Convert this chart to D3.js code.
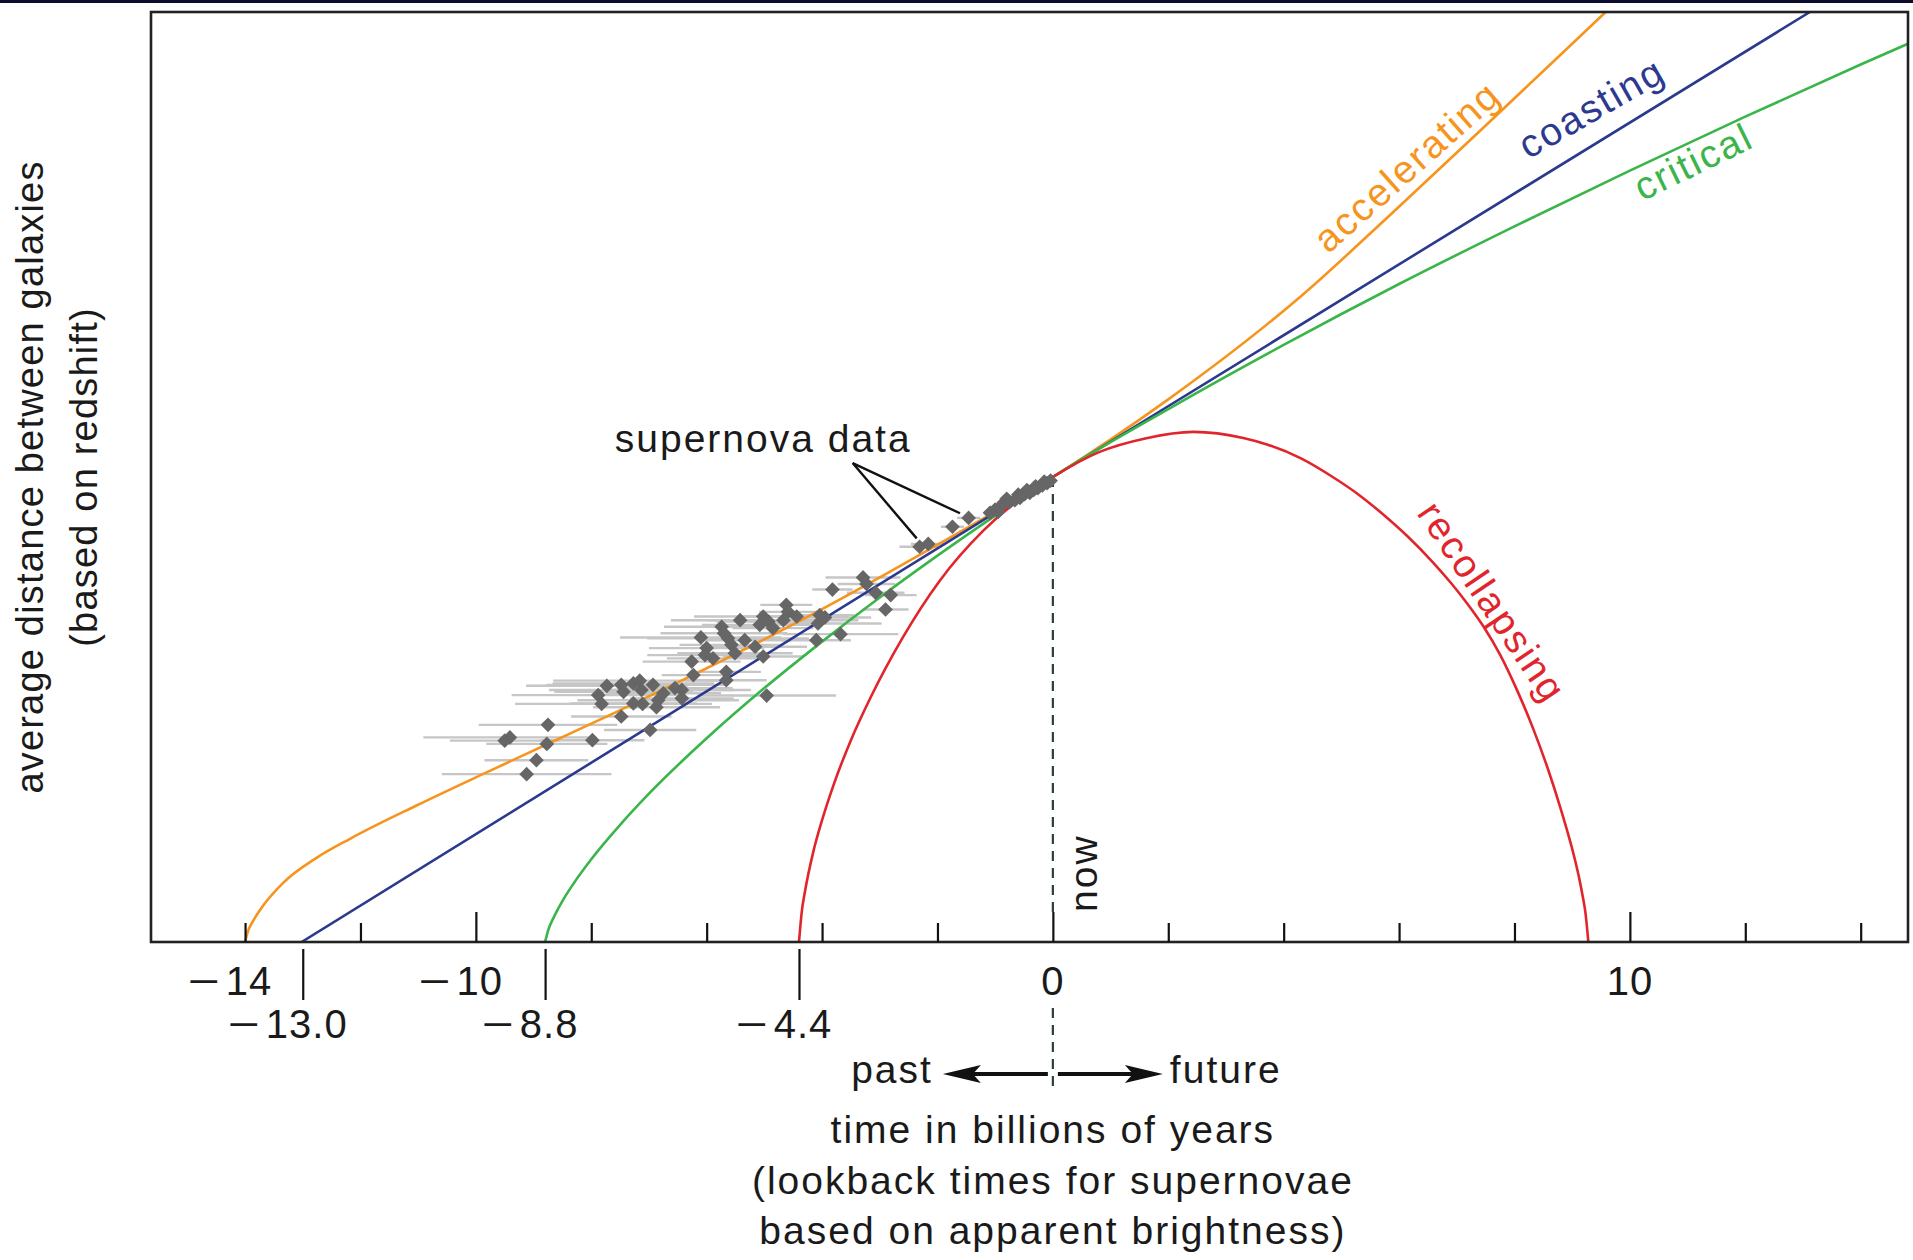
<!DOCTYPE html>
<html><head><meta charset="utf-8">
<script src="https://cdn.jsdelivr.net/npm/d3@7"></script>
<style>
html,body{margin:0;padding:0;background:#fff;}
svg{display:block;}
text{font-family:"Liberation Sans", Arial, Helvetica, sans-serif; fill:#1a1a1a;}
</style></head><body>
<svg id="chart" width="1913" height="1260"></svg>
<script>
// ---------------- DATA ----------------
// time in billions of years (t), relative average distance between galaxies (a; now = 1)
const xTickValues = [-14,-12,-10,-8,-6,-4,-2,0,2,4,6,8,10,12,14];
const xMajorTicks = [-10,0,10];
const xTickLabels = [-14,-10,0,10];
const ageTickValues = [-13.0,-8.8,-4.4];

const accelerating = [[-14,0],[-13.95,0.023],[-13.88,0.041],[-13.74,0.069],[-13.34,0.127],[-12.76,0.181],
  [-12.18,0.222],[-11.02,0.294],[-9.88,0.361],[-8.72,0.428],[-7.56,0.495],[-6.34,0.568],[-4.04,0.713],
  [-1.96,0.857],[0,1.0],[2.0,1.167],[4.33,1.392],[5.84,1.563],[7.57,1.764],[8.73,1.900],[9.58,2.0]];
const coasting = [[-13.02,0],[0,1.0],[13.12,2.0]];
const critical = [[-8.8,0],[-8.75,0.024],[-8.65,0.053],[-8.5,0.088],[-8.3,0.127],[-8.0,0.178],[-7.5,0.252],
  [-7.0,0.319],[-6.0,0.438],[-5.0,0.546],[-4.0,0.646],[-3.0,0.741],[-2.0,0.831],[-1.0,0.917],[0,1.0],
  [2,1.146],[4,1.284],[6,1.415],[8,1.539],[10,1.659],[12,1.775],[14,1.887],[14.9,1.936]];
const recollapsing = [[-4.4,0],[-4.35,0.067],[-4.3,0.106],[-4.15,0.195],[-4.0,0.262],[-3.8,0.338],[-3.5,0.434],
  [-3.17,0.523],[-2.6,0.655],[-1.96,0.777],[-1.21,0.884],[-0.62,0.948],[0,1.0],[0.81,1.054],[1.6,1.083],
  [2.44,1.097],[3.3,1.084],[3.71,1.070],[4.3,1.040],[4.85,1.000],[5.3,0.962],[5.72,0.920],[6.15,0.872],
  [6.59,0.816],[6.9,0.772],[7.18,0.728],[7.46,0.679],[7.75,0.618],[8.05,0.540],[8.32,0.460],[8.58,0.372],
  [8.78,0.295],[8.93,0.232],[9.03,0.186],[9.13,0.132],[9.18,0.100],[9.23,0.063],[9.28,0]];

const curveNames = ["accelerating","coasting","critical","recollapsing"];

// supernovae: [lookback time t, distance a, time uncertainty (half width)]
const supernovae = [
  [-2.31,0.850,0.35],[-2.16,0.856,0.3],[-3.29,0.784,0.65],[-3.23,0.770,0.5],[-3.82,0.758,0.35],[-3.07,0.751,0.5],
  [-2.81,0.746,0.45],[-2.90,0.715,0.4],[-3.68,0.662,1.0],[-4.10,0.649,0.6],[-4.62,0.725,0.45],[-4.59,0.710,0.5],
  [-4.67,0.692,1.3],[-4.44,0.700,0.9],[-4.04,0.703,0.6],[-3.95,0.698,0.8],[-4.07,0.685,1.1],[-5.02,0.700,1.2],
  [-4.93,0.689,0.9],[-5.08,0.682,1.0],[-4.85,0.675,0.7],[-5.42,0.692,1.2],[-5.74,0.678,1.0],[-5.70,0.664,1.1],
  [-5.63,0.653,1.4],[-5.57,0.639,0.9],[-5.51,0.621,1.0],[-5.34,0.649,0.8],[-5.16,0.635,0.9],[-5.02,0.614,0.7],
  [-6.10,0.655,1.4],[-6.00,0.632,1.0],[-6.03,0.617,1.0],[-5.89,0.610,0.8],[-6.26,0.603,0.85],[-5.66,0.581,0.6],
  [-5.66,0.563,0.7],[-6.23,0.574,0.55],[-4.96,0.530,1.2],[-7.73,0.551,1.4],[-7.88,0.531,1.5],[-7.82,0.512,1.5],
  [-7.48,0.553,1.3],[-7.44,0.538,1.2],[-7.27,0.556,1.4],[-7.16,0.562,1.5],[-7.13,0.542,1.6],[-7.27,0.513,1.1],
  [-7.11,0.512,1.2],[-6.93,0.553,1.3],[-6.75,0.535,1.0],[-6.84,0.520,1.4],[-6.87,0.505,1.1],[-6.55,0.546,1.0],
  [-6.43,0.542,1.2],[-6.43,0.524,0.9],[-7.48,0.485,0.87],[-6.98,0.456,0.8],[-8.75,0.467,1.2],[-9.41,0.440,1.5],
  [-9.50,0.433,0.95],[-8.77,0.426,1.05],[-7.98,0.434,0.9],[-8.95,0.391,0.9],[-9.12,0.361,1.47],
  [-1.74,0.893,0.2],[-1.46,0.912,0.2],
  [-1.09,0.923,0.1],[-1.0,0.930,0.1],[-0.95,0.925,0.1],[-0.92,0.935,0.1],[-0.85,0.945,0.1],[-0.8,0.953,0.1],
  [-0.75,0.946,0.1],[-0.66,0.950,0.1],[-0.6,0.962,0.1],[-0.57,0.955,0.1],[-0.49,0.963,0.1],[-0.45,0.972,0.1],
  [-0.40,0.966,0.1],[-0.33,0.972,0.1],[-0.3,0.980,0.1],[-0.26,0.976,0.1],[-0.18,0.982,0.1],[-0.15,0.990,0.1],
  [-0.10,0.987,0.1],[-0.04,0.992,0.1]
];

// ---------------- LAYOUT / STYLE ----------------
const W = 1913, H = 1260;
const P = {left:151, right:1908, top:12, bottom:942};
const colors = {accelerating:"#f7941d", coasting:"#2b3a8f", critical:"#3ab54a", recollapsing:"#e1252c"};
const series = {accelerating, coasting, critical, recollapsing};
const FS = 39;

const svg = d3.select("#chart");
const x = d3.scaleLinear().domain([-15.63, 14.82]).range([P.left, P.right]);
const y = d3.scaleLinear().domain([0, 2]).range([P.bottom, P.top]);

// top dark band
svg.append("rect").attr("x",0).attr("y",0).attr("width",W).attr("height",3).attr("fill","#0c0c2c");

svg.append("defs").append("clipPath").attr("id","plotclip")
  .append("rect").attr("x",P.left).attr("y",P.top).attr("width",P.right-P.left).attr("height",P.bottom-P.top);

// now dashed line (inside plot and below axis)
svg.append("line").attr("x1",x(0)).attr("x2",x(0)).attr("y1",y(1)).attr("y2",y(0)-28)
  .attr("stroke","#2f3d3d").attr("stroke-width",2.2).attr("stroke-dasharray","10,7");
svg.append("line").attr("x1",x(0)).attr("x2",x(0)).attr("y1",1008).attr("y2",1086)
  .attr("stroke","#2f3d3d").attr("stroke-width",2.2).attr("stroke-dasharray","10,7");

// error bars
const plotG = svg.append("g").attr("clip-path","url(#plotclip)");
plotG.append("g").selectAll("line").data(supernovae).join("line")
  .attr("x1",d=>x(d[0]-d[2])).attr("x2",d=>x(d[0]+d[2]))
  .attr("y1",d=>y(d[1])).attr("y2",d=>y(d[1]))
  .attr("stroke","#c6c6c6").attr("stroke-width",2.4);

// curves
const line = d3.line().x(d=>x(d[0])).y(d=>y(d[1])).curve(d3.curveMonotoneX);
plotG.append("g").selectAll("path").data(curveNames).join("path")
  .attr("d",n=>line(series[n])).attr("fill","none")
  .attr("stroke",n=>colors[n]).attr("stroke-width",2.6);

// supernova diamonds
const sym = d3.symbol(d3.symbolSquare, 108);
plotG.append("g").selectAll("path").data(supernovae).join("path")
  .attr("d",sym).attr("fill","#666666")
  .attr("transform",d=>`translate(${x(d[0])},${y(d[1])}) rotate(45)`);

// frame
svg.append("rect").attr("x",P.left).attr("y",P.top).attr("width",P.right-P.left).attr("height",P.bottom-P.top)
  .attr("fill","none").attr("stroke","#222").attr("stroke-width",2.6);

// ticks (pointing up into the plot)
const axT = svg.append("g").attr("transform",`translate(0,${P.bottom})`)
  .call(d3.axisTop(x).tickValues(xTickValues).tickSize(19).tickFormat(""));
axT.select(".domain").remove();
axT.selectAll(".tick line").attr("stroke","#111").attr("stroke-width",2.2)
  .filter(d=>xMajorTicks.includes(d)).attr("y2",-30);

// age ticks below axis
const axB = svg.append("g").attr("transform",`translate(0,${P.bottom+7})`)
  .call(d3.axisBottom(x).tickValues(ageTickValues).tickSize(51).tickFormat(""));
axB.select(".domain").remove();
axB.selectAll(".tick line").attr("stroke","#111").attr("stroke-width",2.2);

// tick labels with a long minus sign
function numLabels(values, fmt, baseY){
  const g = svg.append("g").selectAll("g").data(values).join("g")
    .attr("transform",d=>`translate(${x(d) + (d<0?4:0)},${baseY})`);
  g.append("text").attr("text-anchor","middle").attr("font-size",40).attr("letter-spacing",1)
    .text(d=>fmt(Math.abs(d)));
  g.each(function(d){
    if (d >= 0) return;
    const w = d3.select(this).select("text").node().getComputedTextLength();
    d3.select(this).append("text").attr("x",-w/2-6).attr("text-anchor","end").attr("font-size",40)
      .attr("textLength",32).attr("lengthAdjust","spacingAndGlyphs").text("\u2212");
  });
}
numLabels(xTickLabels, d3.format("d"), 995);
numLabels(ageTickValues, d3.format(".1f"), 1038);

// curve labels
const curveLabels = [
  {name:"accelerating", t:6.29, a:1.646, angle:-41.7},
  {name:"coasting", t:9.45, a:1.769, angle:-30},
  {name:"critical", t:11.2, a:1.652, angle:-26},
  {name:"recollapsing", t:7.42, a:0.715, angle:56}
];
svg.append("g").selectAll("text").data(curveLabels).join("text")
  .attr("transform",d=>`translate(${x(d.t)},${y(d.a)}) rotate(${d.angle})`)
  .attr("text-anchor","middle").attr("font-size",FS).attr("letter-spacing",2)
  .style("fill",d=>colors[d.name]).text(d=>d.name);

// supernova data annotation
const snLabel = {t:-5.02, a:1.054, apex:[-3.47,1.030], ends:[[-2.36,0.868],[-1.61,0.922]]};
svg.append("text").attr("x",x(snLabel.t)).attr("y",y(snLabel.a)).attr("text-anchor","middle")
  .attr("font-size",FS).attr("letter-spacing",2).text("supernova data");
svg.append("g").selectAll("line").data(snLabel.ends).join("line")
  .attr("x1",x(snLabel.apex[0])).attr("y1",y(snLabel.apex[1]))
  .attr("x2",d=>x(d[0])).attr("y2",d=>y(d[1]))
  .attr("stroke","#111").attr("stroke-width",2.4);

// now label
svg.append("text").attr("transform",`translate(${x(0)+44},${P.bottom-30}) rotate(-90)`)
  .attr("font-size",FS).attr("letter-spacing",2).text("now");

// past / future arrows
const arrY = 1074;
function arrow(dir){
  const x0 = x(0) + dir*5, tip = x(0) + dir*110;
  svg.append("line").attr("x1",x0).attr("x2",tip - dir*20).attr("y1",arrY).attr("y2",arrY)
    .attr("stroke","#111").attr("stroke-width",4);
  const p = d3.path();
  p.moveTo(tip, arrY); p.lineTo(tip - dir*38, arrY-9); p.lineTo(tip - dir*30, arrY);
  p.lineTo(tip - dir*38, arrY+9); p.closePath();
  svg.append("path").attr("d",p.toString()).attr("fill","#111");
}
arrow(-1); arrow(1);
svg.append("text").attr("x",x(0)-120).attr("y",1083).attr("text-anchor","end")
  .attr("font-size",FS).attr("letter-spacing",2).text("past");
svg.append("text").attr("x",x(0)+117).attr("y",1083).attr("text-anchor","start")
  .attr("font-size",FS).attr("letter-spacing",2).text("future");

// x title
const xTitle = ["time in billions of years","(lookback times for supernovae","based on apparent brightness)"];
svg.append("g").selectAll("text").data(xTitle).join("text")
  .attr("x",x(0)).attr("y",(d,i)=>1143 + i*50.5).attr("text-anchor","middle")
  .attr("font-size",FS).attr("letter-spacing",2).text(d=>d);

// y title
const yTitle = ["average distance between galaxies","(based on redshift)"];
const yc = (P.top+P.bottom)/2;
svg.append("g").selectAll("text").data(yTitle).join("text")
  .attr("transform",(d,i)=>`translate(${43 + i*54},${yc}) rotate(-90)`)
  .attr("text-anchor","middle").attr("font-size",38).attr("letter-spacing",1.2).text(d=>d);
</script>
</body></html>
